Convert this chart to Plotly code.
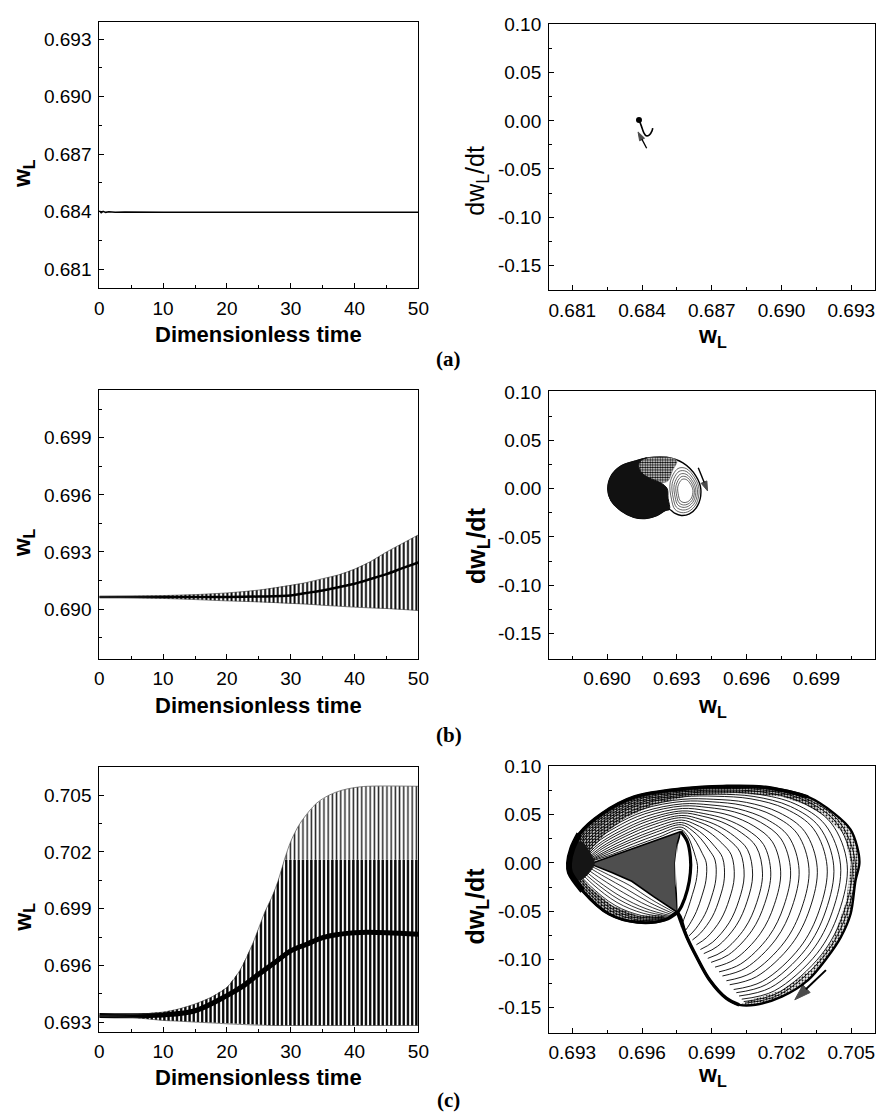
import numpy as np
import plotly.graph_objects as go

# ======================= data =======================
# ---- (a) stable case ----
A_T = [0, 0.3, 0.6, 1.0, 1.5, 2.5, 4, 6, 10, 20, 24, 26, 28, 35, 45, 50]
A_W = [0.68405, 0.68394, 0.68401, 0.68396, 0.68399, 0.68397, 0.68398, 0.68397,
       0.68397, 0.68397, 0.68395, 0.68394, 0.68396, 0.68397, 0.68396, 0.68396]
A_PH_W = [0.68387, 0.68397, 0.68407, 0.68418, 0.68432, 0.68443, 0.68446]
A_PH_DW = [0.001, -0.0052, -0.012, -0.0155, -0.0145, -0.0104, -0.0076]
A_ARROW_W = [0.68420, 0.68383]
A_ARROW_DW = [-0.0285, -0.0115]

# ---- (b) slowly growing oscillation: envelopes of the time series ----
B_T = [0, 5, 10, 15, 20, 25, 30, 32.5, 35, 37.5, 40, 42.5, 45, 47.5, 50]
B_UP = [0.69066, 0.69068, 0.69071, 0.69076, 0.69085, 0.69100, 0.69125, 0.69140,
        0.69160, 0.69180, 0.69210, 0.69250, 0.69300, 0.69345, 0.69390]
B_LO = [0.69062, 0.69060, 0.69056, 0.69050, 0.69043, 0.69038, 0.69030, 0.69026,
        0.69020, 0.69015, 0.69010, 0.69006, 0.69003, 0.68998, 0.68992]
B_MEAN = [0.69064, 0.69064, 0.69064, 0.69064, 0.69064, 0.69066, 0.69072, 0.69085,
          0.69098, 0.69115, 0.69133, 0.69158, 0.69184, 0.69215, 0.69245]
# (b) phase portrait outline (kidney) and its dark / grey parts
B_OUT_W = [0.69003, 0.69017, 0.69059, 0.69118, 0.69171, 0.69256, 0.69326, 0.69382, 0.69403,
           0.69389, 0.69354, 0.69319, 0.69290, 0.69268, 0.69249, 0.69213, 0.69171, 0.69115,
           0.69059, 0.69017, 0.69003]
B_OUT_DW = [-0.0006, 0.013, 0.0232, 0.0283, 0.0317, 0.0324, 0.0266, 0.013, -0.0006,
            -0.0177, -0.0262, -0.0279, -0.0255, -0.0215, -0.0228, -0.0279, -0.0307, -0.0297,
            -0.0228, -0.0126, -0.0006]
B_DARK_W = [0.69171, 0.69118, 0.69059, 0.69017, 0.69003, 0.69017, 0.69059, 0.69115, 0.69171,
            0.69213, 0.69249, 0.69268, 0.69262, 0.69258, 0.69230, 0.69190, 0.69150, 0.69135,
            0.69150, 0.69171]
B_DARK_DW = [0.0317, 0.0283, 0.0232, 0.013, -0.0006, -0.0126, -0.0228, -0.0297, -0.0307,
             -0.0279, -0.0228, -0.0215, -0.010, 0.000, 0.006, 0.010, 0.016, 0.024, 0.030, 0.0317]
B_GREY_W = [0.69135, 0.69150, 0.69171, 0.69256, 0.69300, 0.69280, 0.69262, 0.69230, 0.69190, 0.69150, 0.69135]
B_GREY_DW = [0.024, 0.030, 0.0317, 0.0324, 0.029, 0.018, 0.008, 0.006, 0.010, 0.016, 0.024]
B_LOBE_W = [0.69262, 0.69300, 0.69340, 0.69382, 0.69403, 0.69389, 0.69354, 0.69319, 0.69285, 0.69268, 0.69262]
B_LOBE_DW = [0.008, 0.024, 0.024, 0.013, -0.0006, -0.0177, -0.0262, -0.0279, -0.024, -0.012, 0.008]
B_LOBE_CENTER = (0.6934, -0.003)
B_LOBE_SCALES = [0.88, 0.77, 0.66, 0.56, 0.46]
B_ARROW_W = [0.69392, 0.69432]
B_ARROW_DW = [0.0215, -0.0024]

# ---- (c) limit cycle ----
C_T = [0, 5, 10, 12.5, 15, 17.5, 20, 22, 24, 25, 26, 27, 28, 29, 30, 31, 32, 34, 36, 38, 40, 42, 50]
C_UP = [0.69335, 0.69340, 0.69353, 0.69370, 0.69396, 0.69431, 0.69484, 0.69572, 0.69712,
        0.69799, 0.69887, 0.69957, 0.70045, 0.70158, 0.70255, 0.70325, 0.70377, 0.70456,
        0.70500, 0.70526, 0.70540, 0.70547, 0.70547]
C_LO = [0.69330, 0.69325, 0.69309, 0.69305, 0.69300, 0.69296, 0.69291, 0.69288, 0.69285,
        0.69284, 0.69283, 0.69282, 0.69282, 0.69282, 0.69282, 0.69282, 0.69282, 0.69282,
        0.69282, 0.69282, 0.69282, 0.69282, 0.69282]
C_SPLIT = 0.70158
C_MEAN_T = [0, 10, 15, 20, 22.5, 25, 27.5, 30, 32.5, 35, 37.5, 40, 45, 50]
C_MEAN = [0.69335, 0.69338, 0.69360, 0.69440, 0.69490, 0.69554, 0.69615, 0.69677,
          0.69712, 0.69747, 0.69764, 0.69773, 0.69773, 0.69764]

C_OUT_W = [0.69286, 0.69300, 0.69330, 0.69427, 0.69567, 0.69779, 0.69948, 0.70131, 0.70314,
           0.70426, 0.70497, 0.70525, 0.70535, 0.70518, 0.70497, 0.70455, 0.70398, 0.70314,
           0.70201, 0.70088, 0.70018, 0.69962, 0.69891, 0.69835, 0.69793, 0.69753, 0.69700,
           0.69580, 0.69458, 0.69345, 0.69290, 0.69286]
C_OUT_DW = [0.0, 0.015, 0.030, 0.051, 0.0685, 0.077, 0.0795, 0.0785, 0.0685, 0.0514, 0.0346,
            0.0171, 0.0, -0.0187, -0.053, -0.077, -0.0976, -0.1215, -0.1387, -0.1472, -0.1472,
            -0.1403, -0.1215, -0.0976, -0.077, -0.0514, -0.059, -0.0616, -0.053, -0.029, -0.010, 0.0]
# inner / outer guide curves of the growing loops (right-hand family)
C_IN_W = [0.69390, 0.69480, 0.69580, 0.69680, 0.69767, 0.69790, 0.69800, 0.69808, 0.69810,
          0.69800, 0.69785, 0.69770, 0.69760, 0.69755]
C_IN_DW = [0.002, 0.008, 0.0166, 0.0251, 0.0326, 0.025, 0.015, 0.003, -0.005, -0.020,
           -0.032, -0.045, -0.055, -0.062]
C_OG_W = [0.69300, 0.69330, 0.69427, 0.69567, 0.69779, 0.69948, 0.70131, 0.70314, 0.70460,
          0.70535, 0.70497, 0.70398, 0.70201, 0.70050]
C_OG_DW = [0.004, 0.030, 0.051, 0.0685, 0.077, 0.0795, 0.0785, 0.0685, 0.045, 0.0,
           -0.053, -0.0976, -0.1387, -0.1475]
# right-most w of each visible loop
C_ARC_R = [0.69842, 0.69884, 0.69926, 0.69962, 0.70004, 0.70046, 0.70082, 0.70124, 0.70159,
           0.70201, 0.70243, 0.70279, 0.70321, 0.70356, 0.70398, 0.70426, 0.70455, 0.70483,
           0.70504, 0.70518]
# lower-left pocket: guide curves and depth of each visible loop
C_PIN_W = [0.69390, 0.69470, 0.69556, 0.69650, 0.69753]
C_PIN_DW = [-0.002, -0.010, -0.019, -0.035, -0.0514]
C_POUT_W = [0.69290, 0.69345, 0.69458, 0.69580, 0.69700]
C_POUT_DW = [-0.010, -0.029, -0.053, -0.0616, -0.059]
C_POCKET_D = [-0.023, -0.027, -0.031, -0.035, -0.038, -0.041, -0.044, -0.046, -0.048, -0.050]
C_TRI_W = [0.69387, 0.6948, 0.6958, 0.6968, 0.69767, 0.69752, 0.69742, 0.69745, 0.69753,
           0.69650, 0.69556, 0.69470, 0.69387]
C_TRI_DW = [0.0, 0.008, 0.0166, 0.0251, 0.0326, 0.020, 0.0, -0.025, -0.0514, -0.035,
            -0.019, -0.010, -0.002]
C_ELL_W = [0.69767, 0.69795, 0.69808, 0.69808, 0.69795, 0.69770, 0.69753]
C_ELL_DW = [0.0326, 0.022, 0.006, -0.010, -0.028, -0.045, -0.0514]
# stippled bands: inner edges
C_BAND_IN_W = [0.70380, 0.70300, 0.7020, 0.7000, 0.6980, 0.6965, 0.6953, 0.6945, 0.6939, 0.6936]
C_BAND_IN_DW = [0.0500, 0.061, 0.069, 0.0725, 0.0695, 0.060, 0.047, 0.032, 0.016, 0.003]
C_RBAND_IN_W = [0.70070, 0.70200, 0.70330, 0.70420, 0.70478, 0.70498, 0.70470, 0.70380]
C_RBAND_IN_DW = [-0.142, -0.132, -0.110, -0.080, -0.040, 0.0, 0.030, 0.050]
C_PBAND_IN_W = [0.6969, 0.6958, 0.6947, 0.6937, 0.6932]
C_PBAND_IN_DW = [-0.054, -0.0545, -0.044, -0.024, -0.008]
C_LEFT_W = [0.69286, 0.69300, 0.69335, 0.69392, 0.69392, 0.69330, 0.69290]
C_LEFT_DW = [0.0, 0.014, 0.022, 0.003, -0.003, -0.018, -0.010]
C_ARROW_W = [0.70391, 0.70257]
C_ARROW_DW = [-0.1112, -0.142]

# axis ranges / ticks
LEFT_YRANGES = [(0.6800, 0.6939), (0.6874, 0.7015), (0.6925, 0.7065)]
LEFT_YTICKS = [[0.681, 0.684, 0.687, 0.690, 0.693], [0.690, 0.693, 0.696, 0.699],
               [0.693, 0.696, 0.699, 0.702, 0.705]]
RIGHT_XRANGES = [(0.6800, 0.6940), (0.6875, 0.7015), (0.6920, 0.7060)]
RIGHT_XTICKS = [[0.681, 0.684, 0.687, 0.690, 0.693], [0.690, 0.693, 0.696, 0.699],
                [0.693, 0.696, 0.699, 0.702, 0.705]]
RIGHT_YRANGE = (-0.176, 0.1008)
RIGHT_YTICKS = [0.10, 0.05, 0.00, -0.05, -0.10, -0.15]
TIME_TICKS = [0, 10, 20, 30, 40, 50]

# ======================= figure =======================
W, H = 887, 1120
fig = go.Figure()


def add(tr, k):
    tr.update(xaxis='x' if k == 1 else f'x{k}', yaxis='y' if k == 1 else f'y{k}',
              showlegend=False, hoverinfo='skip')
    fig.add_trace(tr)


BLACK = 'black'


def arrow(k, xs, ys, width, size):
    add(go.Scatter(x=xs, y=ys, mode='lines+markers', line=dict(color=BLACK, width=width),
                   marker=dict(symbol='arrow', angleref='previous', size=[0, size], color=BLACK,
                               line=dict(width=1, color=BLACK))), k)


def poly(k, xs, ys, fillcolor, lw=0.3, lc=None, shape='linear', pattern=None):
    kw = {}
    if pattern is not None:
        kw['fillpattern'] = pattern
    add(go.Scatter(x=xs, y=ys, mode='lines', fill='toself', fillcolor=fillcolor,
                   line=dict(color=lc or fillcolor, width=lw, shape=shape), **kw), k)


def stipple(solidity, size=3):
    return dict(shape='.', size=size, solidity=solidity, fgcolor=BLACK, bgcolor='white',
                fillmode='replace')


# ---- (a) ----
add(go.Scatter(x=A_T, y=A_W, mode='lines', line=dict(color=BLACK, width=1.5)), 1)
add(go.Scatter(x=A_PH_W, y=A_PH_DW, mode='lines', line=dict(color=BLACK, width=1.6, shape='spline')), 2)
add(go.Scatter(x=A_PH_W[:1], y=A_PH_DW[:1], mode='markers', marker=dict(color=BLACK, size=6)), 2)
arrow(2, A_ARROW_W, A_ARROW_DW, 1.3, 9)


def envelope(k, t, lo, mid, up, mean_t, mean, sol_lo, sol_hi, mean_w):
    add(go.Scatter(x=t, y=lo, mode='lines', line=dict(width=0, color=BLACK)), k)
    add(go.Scatter(x=t, y=mid, mode='lines', line=dict(width=0, color=BLACK), fill='tonexty',
                   fillcolor='rgba(0,0,0,0)',
                   fillpattern=dict(shape='|', size=4.2, solidity=sol_lo, fgcolor=BLACK,
                                    bgcolor='white', fillmode='replace')), k)
    add(go.Scatter(x=t, y=up, mode='lines', line=dict(width=0, color=BLACK), fill='tonexty',
                   fillcolor='rgba(0,0,0,0)',
                   fillpattern=dict(shape='|', size=4.2, solidity=sol_hi, fgcolor='#222',
                                    bgcolor='white', fillmode='replace')), k)
    add(go.Scatter(x=mean_t, y=mean, mode='lines', line=dict(color=BLACK, width=mean_w, shape='spline')), k)
    add(go.Scatter(x=t, y=up, mode='lines', line=dict(color='#333', width=0.6, shape='spline')), k)
    add(go.Scatter(x=t, y=lo, mode='lines', line=dict(color='#333', width=0.6, shape='spline')), k)


# ---- (b) ----
envelope(3, B_T, B_LO, B_UP, B_UP, B_T, B_MEAN, 0.45, 0.45, 2.5)
poly(4, B_OUT_W, B_OUT_DW, 'white', lw=1.4, lc=BLACK, shape='spline')
bc_w, bc_dw = B_LOBE_CENTER
for s in B_LOBE_SCALES:
    add(go.Scatter(x=[bc_w + s * (w - bc_w) for w in B_LOBE_W],
                   y=[bc_dw + s * (d - bc_dw) for d in B_LOBE_DW], mode='lines',
                   line=dict(color='#222', width=0.7, shape='spline')), 4)
poly(4, B_GREY_W, B_GREY_DW, '#9a9a9a', lw=0.5, lc='#777', shape='spline', pattern=stipple(0.55, 2.5))
poly(4, B_DARK_W, B_DARK_DW, '#111', lw=1, lc='#111', shape='spline')
arrow(4, B_ARROW_W, B_ARROW_DW, 1.4, 10)

# ---- (c) ----
c_mid = list(np.minimum(np.array(C_UP), C_SPLIT))
envelope(5, C_T, C_LO, c_mid, C_UP, C_MEAN_T, C_MEAN, 0.55, 0.35, 5)

# grey stippled bands along the limit cycle
poly(6, C_OUT_W[:9] + C_BAND_IN_W, C_OUT_DW[:9] + C_BAND_IN_DW, '#b8b8b8', pattern=stipple(0.5))
poly(6, C_OUT_W[8:21] + C_RBAND_IN_W, C_OUT_DW[8:21] + C_RBAND_IN_DW, '#d0d0d0', pattern=stipple(0.4))
poly(6, C_POUT_W + C_PBAND_IN_W, C_POUT_DW + C_PBAND_IN_DW, '#b8b8b8', pattern=stipple(0.5))

# growing loops (right family)
in_w, in_dw = np.array(C_IN_W), np.array(C_IN_DW)
og_w, og_dw = np.array(C_OG_W), np.array(C_OG_DW)
r_in, r_out = C_IN_W[8], C_OG_W[9]
for R in C_ARC_R:
    u = (R - r_in) / (r_out - r_in)
    add(go.Scatter(x=list(in_w + u * (og_w - in_w)), y=list(in_dw + u * (og_dw - in_dw)),
                   mode='lines', line=dict(color=BLACK, width=0.9, shape='spline')), 6)
# pocket loops
pi_w, pi_dw = np.array(C_PIN_W), np.array(C_PIN_DW)
po_w, po_dw = np.array(C_POUT_W), np.array(C_POUT_DW)
for d in C_POCKET_D:
    u = (d - C_PIN_DW[2]) / (C_POUT_DW[2] - C_PIN_DW[2])
    add(go.Scatter(x=list(pi_w + u * (po_w - pi_w)), y=list(pi_dw + u * (po_dw - pi_dw)),
                   mode='lines', line=dict(color=BLACK, width=0.8, shape='spline')), 6)
# dense triangle, small loop, dark left corner
poly(6, C_TRI_W, C_TRI_DW, '#4e4e4e', lw=1.6, lc=BLACK)
poly(6, C_ELL_W + C_TRI_W[5:8], C_ELL_DW + C_TRI_DW[5:8], 'white', lw=0.1)
poly(6, C_LEFT_W, C_LEFT_DW, '#151515', lw=1, lc='#151515', shape='spline')
add(go.Scatter(x=C_ELL_W, y=C_ELL_DW, mode='lines', line=dict(color=BLACK, width=3.2, shape='spline')), 6)
# limit cycle (thick)
add(go.Scatter(x=C_OUT_W, y=C_OUT_DW, mode='lines', line=dict(color=BLACK, width=2.4, shape='spline')), 6)
add(go.Scatter(x=C_OUT_W[1:9], y=C_OUT_DW[1:9], mode='lines', line=dict(color=BLACK, width=3.4, shape='spline')), 6)
add(go.Scatter(x=C_OUT_W[20:26], y=C_OUT_DW[20:26], mode='lines', line=dict(color=BLACK, width=3.4, shape='spline')), 6)
add(go.Scatter(x=[C_OUT_W[-3], C_OUT_W[-2], C_OUT_W[0], C_OUT_W[1], C_OUT_W[2]],
               y=[C_OUT_DW[-3], C_OUT_DW[-2], C_OUT_DW[0], C_OUT_DW[1], C_OUT_DW[2]],
               mode='lines', line=dict(color=BLACK, width=6, shape='spline')), 6)
add(go.Scatter(x=C_OUT_W[25:31], y=C_OUT_DW[25:31], mode='lines', line=dict(color=BLACK, width=3, shape='spline')), 6)
arrow(6, C_ARROW_W, C_ARROW_DW, 2, 17)

# ---- axes ----
TICKFONT = dict(family='Liberation Sans, Arial, sans-serif', size=19, color=BLACK)
common = dict(showgrid=False, zeroline=False, showline=True, linecolor=BLACK, linewidth=1,
              mirror=True, ticks='inside', ticklen=5, tickwidth=1, tickcolor=BLACK,
              tickfont=TICKFONT, ticklabelstandoff=3)
Lx = [96 / W, 421 / W]
Rx = [554 / W, 885.5 / W]
rows_left = [(12, 281), (384, 655), (764.3, 1031.7)]
rows_right = [(14, 283), (385, 655), (763.3, 1032.7)]

layout = dict(width=W, height=H, margin=dict(l=0, r=0, t=0, b=0), paper_bgcolor='white',
              plot_bgcolor='white', showlegend=False)
for i in range(3):
    kl, kr = 2 * i + 1, 2 * i + 2
    nl = '' if kl == 1 else str(kl)
    nr = str(kr)
    yl0, yl1 = rows_left[i]
    yr0, yr1 = rows_right[i]
    layout['xaxis' + nl] = dict(common, domain=Lx, range=[0, 50], tickvals=TIME_TICKS,
                                ticktext=[str(v) for v in TIME_TICKS], anchor='y' + nl,
                                minor=dict(ticks='inside', ticklen=3, dtick=5, tick0=0, tickcolor=BLACK))
    layout['yaxis' + nl] = dict(common, domain=[1 - yl1 / H, 1 - yl0 / H], range=list(LEFT_YRANGES[i]),
                                tickvals=LEFT_YTICKS[i], ticktext=[f'{v:.3f}' for v in LEFT_YTICKS[i]],
                                anchor='x' + nl,
                                minor=dict(ticks='inside', ticklen=3, dtick=0.0015,
                                           tick0=LEFT_YTICKS[i][0], tickcolor=BLACK))
    layout['xaxis' + nr] = dict(common, domain=Rx, range=list(RIGHT_XRANGES[i]), tickvals=RIGHT_XTICKS[i],
                                ticktext=[f'{v:.3f}' for v in RIGHT_XTICKS[i]], anchor='y' + nr,
                                minor=dict(ticks='inside', ticklen=3, dtick=0.0015,
                                           tick0=RIGHT_XTICKS[i][0], tickcolor=BLACK))
    layout['yaxis' + nr] = dict(common, domain=[1 - yr1 / H, 1 - yr0 / H], range=list(RIGHT_YRANGE),
                                tickvals=RIGHT_YTICKS, ticktext=[f'{v:.2f}' for v in RIGHT_YTICKS],
                                anchor='x' + nr,
                                minor=dict(ticks='inside', ticklen=3, dtick=0.025, tick0=0, tickcolor=BLACK))
fig.update_layout(**layout)

# ---- titles / labels ----
SANS = 'Liberation Sans, Arial, sans-serif'
ann = []


def text(x, y, s, size, angle=0, family=SANS, weight='bold'):
    ann.append(dict(x=x / W, y=1 - y / H, xref='paper', yref='paper', text=s, showarrow=False,
                    xanchor='center', yanchor='middle', textangle=angle,
                    font=dict(family=family, size=size, color=BLACK, weight=weight)))


for i, (yt, ylab_y, yr_y, wl_y, lab_y, lab) in enumerate([
        (328, 165, 172, 330, 352, '(a)'), (702, 538, 541, 703, 732, '(b)'),
        (1078, 916, 905, 1076, 1101, '(c)')]):
    text(258, yt, 'Dimensionless time', 22)
    text(19, ylab_y, 'w<sub>L</sub>', 23, -90)
    text(481, yr_y, 'dw<sub>L</sub>/dt', 25, -90, weight='normal' if i == 0 else 'bold')
    text(720, wl_y, 'w<sub>L</sub>', 23)
    text(452, lab_y, lab, 21, family='Liberation Serif, Times New Roman, serif')

fig.update_layout(annotations=ann)

fig.write_html("out.html", post_script="document.body.style.margin='0';")
